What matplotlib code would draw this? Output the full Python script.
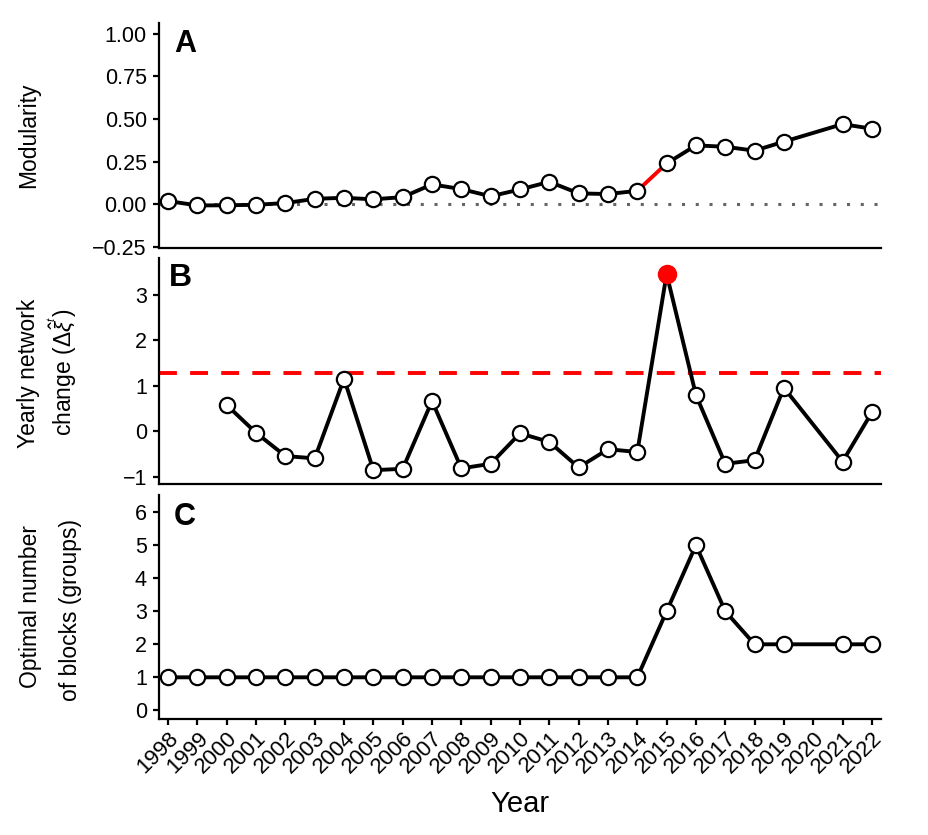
import numpy as np
import matplotlib

matplotlib.use("Agg")
import matplotlib.pyplot as plt


# Годы (2020 в данных отсутствует).
years = [1998, 1999, 2000, 2001, 2002, 2003, 2004, 2005, 2006, 2007, 2008,
         2009, 2010, 2011, 2012, 2013, 2014, 2015, 2016, 2017, 2018, 2019,
         2021, 2022]

# A: модулярность по годам.
modularity = [0.018, -0.008, -0.007, -0.004, 0.006, 0.031, 0.037, 0.028,
              0.041, 0.116, 0.088, 0.046, 0.086, 0.131, 0.063, 0.059, 0.078,
              0.239, 0.345, 0.337, 0.314, 0.367, 0.470, 0.443]

# B: годовое изменение сети (с 2000 года).
change_years = [2000, 2001, 2002, 2003, 2004, 2005, 2006, 2007, 2008, 2009,
                2010, 2011, 2012, 2013, 2014, 2015, 2016, 2017, 2018, 2019,
                2021, 2022]
change = [0.58, -0.03, -0.54, -0.59, 1.16, -0.85, -0.82, 0.67, -0.81, -0.71,
          -0.04, -0.23, -0.79, -0.39, -0.45, 3.46, 0.80, -0.71, -0.63, 0.96,
          -0.66, 0.42]
threshold = 1.28
peak_year = 2015

# C: оптимальное число блоков.
blocks = [1, 1, 1, 1, 1, 1, 1, 1, 1, 1, 1, 1, 1, 1, 1, 1, 1, 3, 5, 3, 2, 2,
          2, 2]

RED = "#FF0000"
FS = 15.5
LFS = 16.5
plt.rcParams["font.family"] = ["Liberation Sans", "DejaVu Sans"]
plt.rcParams["mathtext.fontset"] = "custom"
plt.rcParams["mathtext.rm"] = "Liberation Sans"
plt.rcParams["mathtext.it"] = "Liberation Sans:italic"

NARROW = ["Liberation Sans Narrow", "Liberation Sans", "DejaVu Sans"]
MK = dict(marker="o", ms=11, mfc="white", mec="black", mew=1.6, ls="none", zorder=4)
LW = 2.8


def style_axis(ax, ylim, yticks, yticklabels, show_x):
    ax.set_xlim(1997.7, 2022.3)
    ax.set_ylim(*ylim)
    ax.set_yticks(yticks)
    ax.set_yticklabels(yticklabels)
    for side in ("top", "right"):
        ax.spines[side].set_visible(False)
    for side in ("left", "bottom"):
        ax.spines[side].set_linewidth(1.6)
    ax.tick_params(axis="y", length=4, width=1.6, labelsize=FS, pad=5)
    ax.set_xticks(range(1998, 2023))
    if show_x:
        ax.tick_params(axis="x", length=4, width=1.6, labelsize=16, pad=2)
        ax.set_xticklabels([str(y) for y in range(1998, 2023)], rotation=45,
                           ha="right", va="top", rotation_mode="anchor")
    else:
        ax.tick_params(axis="x", length=0, labelbottom=False)


fig = plt.figure(figsize=(9.29, 8.35), dpi=100)
ax_a = fig.add_axes([0.1715, 0.7026, 0.7765, 0.2702])
ax_b = fig.add_axes([0.1715, 0.4200, 0.7765, 0.2710])
ax_c = fig.add_axes([0.1715, 0.1386, 0.7765, 0.2686])

# --- A ---
yrs = np.array(years)
mod = np.array(modularity)
ax_a.axhline(0, color="#666666", lw=2.2, ls=(0, (1, 3.5)), zorder=1)
i15 = years.index(2015)
ax_a.plot(yrs[:i15], mod[:i15], color="black", lw=LW, zorder=2)
ax_a.plot(yrs[i15 - 1:i15 + 1], mod[i15 - 1:i15 + 1], color=RED, lw=LW, zorder=2)
ax_a.plot(yrs[i15:], mod[i15:], color="black", lw=LW, zorder=2)
ax_a.plot(yrs, mod, **MK)
style_axis(ax_a, (-0.26, 1.066), [-0.25, 0, 0.25, 0.5, 0.75, 1.0],
           ["\u22120.25", "0.00", "0.25", "0.50", "0.75", "1.00"], False)

# --- B ---
cy = np.array(change_years)
ch = np.array(change)
ax_b.axhline(threshold, color=RED, lw=2.8, ls=(0, (4.6, 3.4)), zorder=1)
ax_b.plot(cy, ch, color="black", lw=LW, zorder=2)
normal = cy != peak_year
ax_b.plot(cy[normal], ch[normal], **MK)
ax_b.plot(cy[~normal], ch[~normal], marker="o", ms=13, color=RED, mec=RED,
          ls="none", zorder=5)
style_axis(ax_b, (-1.16, 3.81), [-1, 0, 1, 2, 3],
           ["\u22121", "0", "1", "2", "3"], False)

# --- C ---
bl = np.array(blocks)
ax_c.plot(yrs, bl, color="black", lw=LW, zorder=2)
ax_c.plot(yrs, bl, **MK)
style_axis(ax_c, (-0.27, 6.52), range(0, 7), [str(v) for v in range(7)], True)
ax_c.set_xlabel("Year", fontsize=21, family=NARROW, labelpad=9)

# Буквы панелей
ax_a.text(0.0204, 0.972, "A", transform=ax_a.transAxes, ha="left", va="top",
          fontsize=22, fontweight="bold", family=NARROW)
ax_b.text(0.0139, 0.979, "B", transform=ax_b.transAxes, ha="left", va="top",
          fontsize=23, fontweight="bold")
ax_c.text(0.0204, 0.970, "C", transform=ax_c.transAxes, ha="left", va="top",
          fontsize=22, fontweight="bold", family=NARROW)


# Подписи осей Y (строки ставим по отдельности, как в оригинале)
def ylab(x_px, y_px, text, ha="left"):
    fig.text(x_px / 929, 1 - y_px / 835, text, rotation=90, ha=ha,
             va="center", fontsize=LFS)


ylab(17, 135.5, "Modularity")
ylab(17, 373, "Yearly network")
ylab(79, 372, "change ($\\Delta\\hat{\\xi}^{^{t}}$)", ha="right")
ylab(19, 606, "Optimal number")
ylab(59, 610, "of blocks (groups)")

fig.savefig("out.png", dpi=100, facecolor="white")
